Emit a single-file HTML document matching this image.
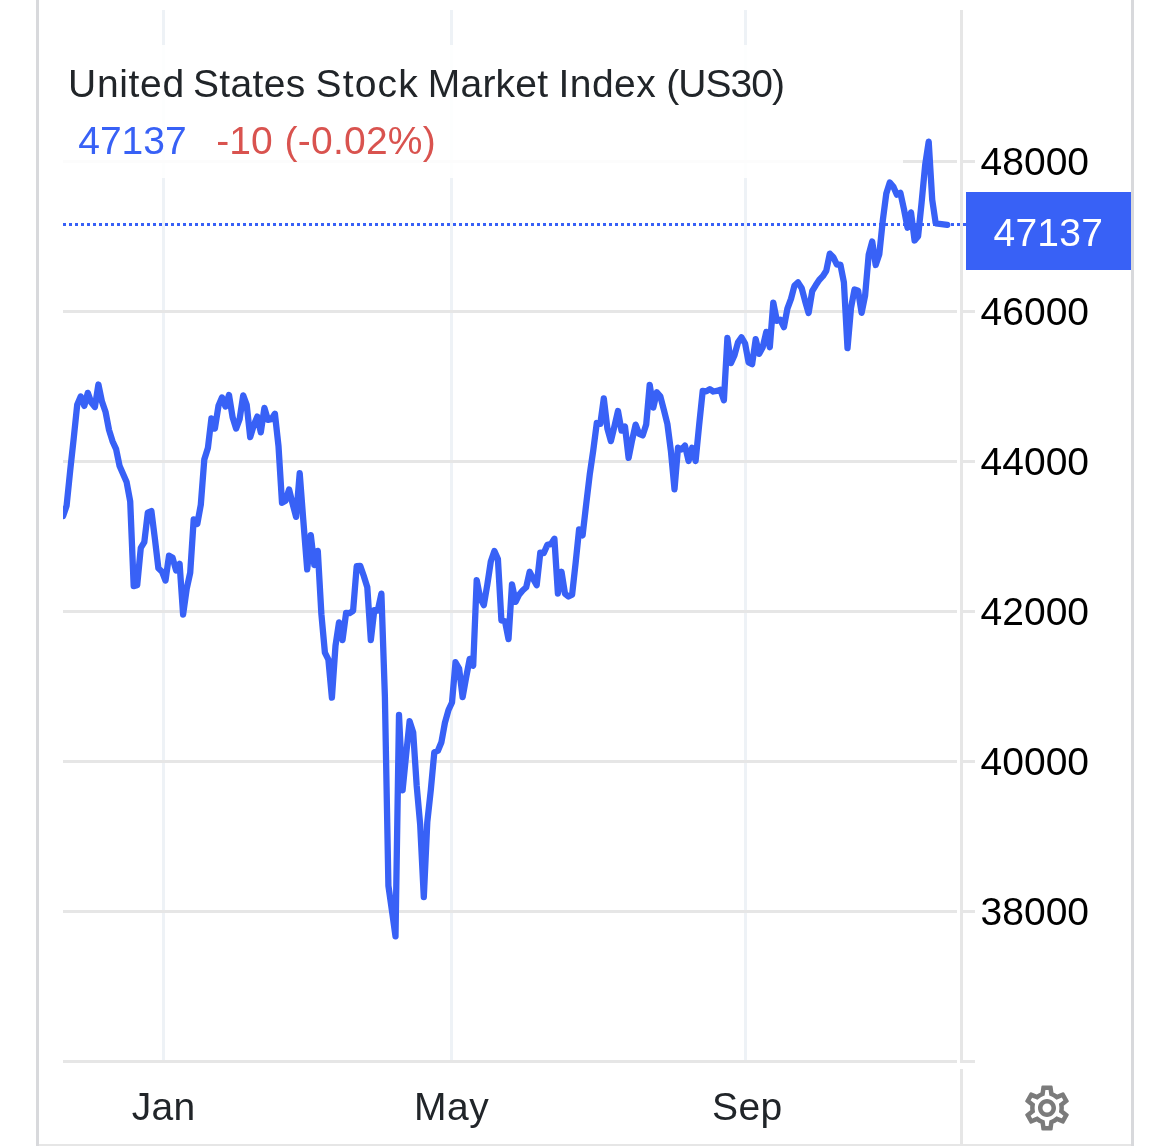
<!DOCTYPE html>
<html><head><meta charset="utf-8"><title>US30</title>
<style>
html,body{margin:0;padding:0;background:#fff;}
body{width:1170px;height:1146px;position:relative;overflow:hidden;font-family:"Liberation Sans",Arial,Helvetica,sans-serif;font-size:39px;line-height:60px;color:#212529;}
div{position:absolute;box-sizing:border-box;}
.b{background:#d8d9dc;}
.vg{background:#eef2f6;width:3px;top:10px;height:1050px;}
.hg{background:#e6e6e6;height:3px;left:63px;width:894px;}
.ax{background:#e6e6e6;}
.tk{background:#e6e6e6;height:3px;left:963px;width:12px;}
.pl{left:980.6px;color:#000;white-space:nowrap;height:60px;}
.t{white-space:nowrap;height:60px;}
.w{position:absolute;top:0;white-space:nowrap;}
svg{position:absolute;left:0;top:0;}
</style></head><body>
<div class="b" style="left:36px;top:0;width:3px;height:1146px"></div>
<div class="b" style="left:1131px;top:0;width:3px;height:1146px"></div>
<div style="left:39px;top:1144px;width:1092px;height:2px;background:#e6e6e6"></div>
<div class="vg" style="left:162px"></div>
<div class="vg" style="left:450px"></div>
<div class="vg" style="left:744px"></div>
<div class="hg" style="top:160px"></div><div class="hg" style="top:310px"></div><div class="hg" style="top:460px"></div><div class="hg" style="top:610px"></div><div class="hg" style="top:760px"></div><div class="hg" style="top:910px"></div>
<svg width="1170" height="1146" viewBox="0 0 1170 1146">
<defs><clipPath id="cp"><rect x="63" y="10" width="897" height="1050"/></clipPath></defs>
<line x1="63" y1="224.5" x2="966" y2="224.5" stroke="#3861f6" stroke-width="3" stroke-dasharray="3 3"/>
<polyline clip-path="url(#cp)" fill="none" stroke="#3861f6" stroke-width="6.3" stroke-linejoin="round" stroke-linecap="round" points="63.1,516.1 66.6,505.8 70.2,470.5 73.7,438.5 77.2,404.8 80.7,396.5 84.3,405.9 87.8,392.9 91.3,402.6 94.9,407.0 98.4,384.5 101.9,401.4 105.5,411.7 109.0,429.8 112.5,441.2 116.1,449.1 119.6,466.1 123.1,474.1 126.6,482.0 130.2,501.3 133.7,586.1 137.2,585.3 140.8,547.8 144.3,542.2 147.8,512.7 151.4,511.1 154.9,538.8 158.4,568.3 162.0,571.7 165.5,580.6 169.0,555.6 172.6,557.8 176.1,570.5 179.6,563.8 183.1,614.6 186.7,588.7 190.2,572.8 193.7,519.5 197.3,523.9 200.8,504.7 204.3,459.5 207.9,448.0 211.4,418.5 214.9,428.6 218.5,405.8 222.0,397.4 225.5,406.5 229.0,395.0 232.6,417.3 236.1,428.6 239.6,419.2 243.2,395.4 246.7,404.8 250.2,437.2 253.8,425.0 257.3,416.6 260.8,432.4 264.4,407.9 267.9,419.9 271.4,419.2 274.9,413.7 278.5,446.1 282.0,502.8 285.5,500.8 289.1,489.5 292.6,503.7 296.1,516.9 299.7,473.2 303.2,519.0 307.2,569.4 310.8,535.2 314.3,565.0 317.8,550.9 321.4,614.2 324.9,652.6 328.4,659.6 331.9,697.7 335.5,645.7 339.0,622.4 342.5,640.1 346.1,612.8 349.6,613.1 353.1,610.8 356.7,566.2 360.2,565.9 363.7,575.8 367.3,587.2 370.8,640.1 374.3,610.2 377.8,610.5 381.4,593.6 384.9,697.0 388.4,885.7 392.0,911.0 395.5,936.4 399.0,715.0 402.6,790.3 406.1,755.0 409.6,721.2 413.2,732.5 416.7,786.0 420.2,825.0 423.8,897.0 427.3,822.0 430.8,790.0 434.3,752.4 437.9,750.7 441.4,742.2 444.9,722.9 448.5,710.0 452.0,702.5 455.5,662.2 459.1,668.5 462.6,697.1 466.1,677.6 469.7,658.9 473.2,665.6 476.7,580.1 480.2,598.0 483.8,605.1 487.3,584.7 490.8,561.5 494.4,551.1 497.9,559.0 501.4,620.4 505.0,621.2 508.5,639.1 512.0,584.3 515.6,601.8 519.1,594.7 522.6,590.5 526.2,587.2 529.7,571.8 533.2,578.9 536.7,585.2 540.3,552.6 543.8,553.0 547.3,544.9 550.9,544.1 554.4,538.7 557.9,593.5 561.5,571.8 565.0,593.8 568.5,596.5 572.1,594.7 575.6,563.2 579.1,529.4 582.6,535.4 586.2,504.1 589.7,474.8 593.2,450.7 596.8,423.0 600.3,423.9 603.8,398.4 607.4,428.7 610.9,441.1 614.4,426.6 618.0,411.0 621.5,430.6 625.0,426.7 628.6,457.9 632.1,440.2 635.6,424.6 639.1,433.9 642.7,435.4 646.2,424.5 649.7,384.8 653.3,407.6 656.8,392.2 660.3,396.2 663.9,410.0 667.4,424.0 670.9,451.0 674.5,489.3 678.0,447.7 681.5,449.5 685.0,445.6 688.6,461.0 692.1,447.7 695.6,461.0 699.2,424.5 702.7,391.0 706.2,391.4 709.8,389.2 713.3,391.5 716.8,390.9 720.4,389.8 723.9,400.3 727.4,338.0 730.9,363.1 734.5,355.1 738.0,342.3 741.5,337.4 745.1,343.5 748.6,362.5 752.1,364.2 755.7,339.2 759.2,353.9 762.7,347.2 766.3,331.9 769.8,347.2 773.3,302.6 776.9,320.8 780.4,319.8 783.9,327.1 787.4,308.7 791.0,298.9 794.5,285.5 798.0,282.4 801.6,287.9 805.1,301.0 808.6,313.0 812.2,291.2 815.7,285.3 819.2,280.0 822.8,276.2 826.3,270.7 829.8,253.6 833.3,257.2 836.9,264.6 840.4,264.6 843.9,282.3 847.5,348.2 851.0,307.9 854.5,289.5 858.1,290.8 861.6,312.8 865.1,295.7 868.7,254.5 872.2,241.5 875.7,265.0 879.3,254.3 882.8,220.4 886.3,193.5 889.8,182.5 893.4,186.8 896.9,194.7 900.4,192.9 904.0,209.4 907.5,227.7 911.0,212.4 914.6,240.5 918.1,236.2 921.6,202.6 925.2,164.8 928.7,141.6 932.2,199.6 935.7,223.4 947.3,224.8"/>
</svg>
<div style="left:63px;top:45px;width:840px;height:133px;background:rgba(255,255,255,0.88)"></div>
<div class="t" style="left:0;top:54px;width:960px"><span class="w" style="left:68.1px;letter-spacing:0.66px">United</span> <span class="w" style="left:193px;letter-spacing:0.32px">States</span> <span class="w" style="left:315.5px;letter-spacing:1.15px">Stock</span> <span class="w" style="left:427.8px;letter-spacing:0.22px">Market</span> <span class="w" style="left:558.4px;letter-spacing:0.5px">Index</span> <span class="w" style="left:666.2px;letter-spacing:-0.94px">(US30)</span></div>
<div class="t" style="left:0;top:111px;width:960px"><span class="w" style="left:78.2px;color:#3861f6">47137</span> <span class="w" style="left:216.3px;color:#d9534f">-10</span> <span class="w" style="left:284.5px;color:#d9534f;letter-spacing:0.24px">(-0.02%)</span></div>
<div class="ax" style="left:960px;top:10px;width:3px;height:1053px"></div>
<div class="ax" style="left:960px;top:1069px;width:3px;height:77px"></div>
<div class="ax" style="left:63px;top:1060px;width:894px;height:3px"></div>
<div class="ax" style="left:960px;top:1060px;width:15px;height:3px"></div>
<div class="tk" style="top:160px"></div><div class="tk" style="top:310px"></div><div class="tk" style="top:460px"></div><div class="tk" style="top:610px"></div><div class="tk" style="top:760px"></div><div class="tk" style="top:910px"></div>
<div class="pl" style="top:132px">48000</div><div class="pl" style="top:282px">46000</div><div class="pl" style="top:432px">44000</div><div class="pl" style="top:582px">42000</div><div class="pl" style="top:732px">40000</div><div class="pl" style="top:882px">38000</div>
<div style="left:966px;top:192px;width:165px;height:77.7px;background:#3861f6"></div>
<div style="left:993.4px;top:203px;white-space:nowrap;height:60px;color:#fff;letter-spacing:0.3px">47137</div>
<div class="t" style="left:131.8px;top:1077px;letter-spacing:0.25px">Jan</div>
<div class="t" style="left:413.9px;top:1077px;letter-spacing:0.55px">May</div>
<div class="t" style="left:712.1px;top:1077px;letter-spacing:0.35px">Sep</div>
<svg width="1170" height="1146" viewBox="0 0 1170 1146"><g transform="translate(1020,1081) scale(2.25)"><path fill="#7b7b7b" d="M19.43 12.98c.04-.32.07-.64.07-.98 0-.34-.03-.66-.07-.98l2.11-1.65c.19-.15.24-.42.12-.64l-2-3.46c-.09-.16-.26-.25-.44-.25-.06 0-.12.01-.17.03l-2.49 1c-.52-.4-1.08-.73-1.69-.98l-.38-2.65C14.46 2.18 14.25 2 14 2h-4c-.25 0-.46.18-.49.42l-.38 2.65c-.61.25-1.17.59-1.69.98l-2.49-1c-.06-.02-.12-.03-.18-.03-.17 0-.34.09-.43.25l-2 3.46c-.13.22-.07.49.12.64l2.11 1.65c-.04.32-.07.65-.07.98 0 .33.03.66.07.98l-2.11 1.65c-.19.15-.24.42-.12.64l2 3.46c.09.16.26.25.44.25.06 0 .12-.01.17-.03l2.49-1c.52.4 1.08.73 1.69.98l.38 2.65c.03.24.24.42.49.42h4c.25 0 .46-.18.49-.42l.38-2.65c.61-.25 1.17-.59 1.69-.98l2.49 1c.06.02.12.03.18.03.17 0 .34-.09.43-.25l2-3.46c.12-.22.07-.49-.12-.64l-2.11-1.65zm-1.98-1.71c.04.31.05.52.05.73 0 .21-.02.43-.05.73l-.14 1.13.89.7 1.08.84-.7 1.21-1.27-.51-1.04-.42-.9.68c-.43.32-.84.56-1.25.73l-1.06.43-.16 1.13-.2 1.35h-1.4l-.19-1.35-.16-1.13-1.06-.43c-.43-.18-.83-.41-1.23-.71l-.91-.7-1.06.43-1.27.51-.7-1.21 1.08-.84.89-.7-.14-1.13c-.03-.31-.05-.54-.05-.74s.02-.43.05-.73l.14-1.13-.89-.7-1.08-.84.7-1.21 1.27.51 1.04.42.9-.68c.43-.32.84-.56 1.25-.73l1.06-.43.16-1.13.2-1.35h1.39l.19 1.35.16 1.13 1.06.43c.43.18.83.41 1.23.71l.91.7 1.06-.43 1.27-.51.7 1.21-1.07.85-.89.7.14 1.13zM12 8c-2.21 0-4 1.79-4 4s1.79 4 4 4 4-1.79 4-4-1.79-4-4-4zm0 6c-1.1 0-2-.9-2-2s.9-2 2-2 2 .9 2 2-.9 2-2 2z"/></g></svg>
</body></html>
